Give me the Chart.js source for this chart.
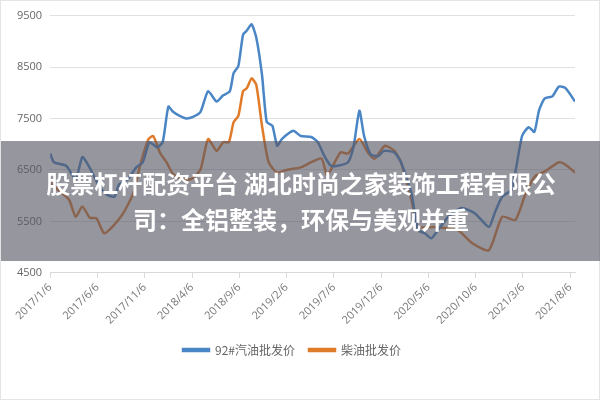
<!DOCTYPE html>
<html>
<head>
<meta charset="utf-8">
<script src="https://cdn.jsdelivr.net/npm/chart.js@4"></script>
<style>
  body { margin: 0; background: #fff; }
  #wrap { position: relative; width: 600px; height: 400px; box-sizing: border-box; border: 1px solid #e4e4e4; }
  #banner {
    position: absolute; left: 0; top: 140px; width: 600px; height: 120px;
    background: rgba(85, 85, 100, 0.62); color: #fff; text-align: center;
    font: bold 24px "Noto Sans CJK SC", sans-serif; line-height: 36px;
    box-sizing: border-box; padding-top: 24px;
  }
</style>
</head>
<body>
<div id="wrap">
  <canvas id="chart" width="598" height="398"></canvas>
  <div id="banner">股票杠杆配资平台 湖北时尚之家装饰工程有限公<br>司：全铝整装，环保与美观并重</div>
</div>
<script>
// months counted from 2017/1/6
const dateLabels = ['2017/1/6', '2017/6/6', '2017/11/6', '2018/4/6', '2018/9/6', '2019/2/6',
  '2019/7/6', '2019/12/6', '2020/5/6', '2020/10/6', '2021/3/6', '2021/8/6'];
const yTicks = [4500, 5500, 6500, 7500, 8500, 9500];

const gasMonths = [0, 0.4, 1.7, 2.7, 3.4, 4.1, 5.2, 6, 6.8, 7.3, 8.2, 9.1, 9.8, 10.5, 11.3, 11.9, 12.5, 13,
  13.7, 14.4, 15.1, 15.9, 16.7, 17.6, 18.3, 19, 19.4, 19.9, 20.4, 20.8, 21.3, 21.8, 22.4, 22.9, 23.5, 24,
  24.5, 25.7, 26.5, 27.6, 28.3, 29, 29.7, 30.4, 31.5, 32.1, 32.7, 33.2, 33.9, 34.7, 35.3, 36.4, 37.1, 38.2,
  38.9, 39.6, 40.3, 41, 42.1, 43.5, 44.9, 46.4, 47, 47.8, 48.8, 49.9, 50.6, 51.2, 51.7, 52.3, 53.1, 53.8,
  54.5, 55.5];
const gasPrices = [6820, 6650, 6580, 6320, 6750, 6570, 6180, 6020, 5980, 6220, 6320, 6550, 6650, 7040, 6940,
  7040, 7730, 7630, 7550, 7500, 7530, 7630, 8030, 7830, 7950, 8030, 8380, 8520, 9130, 9210, 9330, 9070, 8350,
  7430, 7360, 6970, 7100, 7260, 7160, 7140, 7040, 6770, 6580, 6580, 6650, 6970, 7650, 7160, 6800, 6770, 6870,
  6840, 6650, 6050, 5330, 5270, 5170, 5330, 5590, 5760, 5660, 5390, 5660, 5980, 6120, 7160, 7330, 7240, 7660,
  7890, 7930, 8120, 8090, 7830];

const dieselMonths = [0, 0.8, 2, 2.7, 3.4, 4.2, 4.9, 5.7, 6.6, 7.7, 8.8, 9.5, 10.4, 10.9, 11.6, 12.3, 13, 13.9,
  14.9, 15.9, 16.7, 17.6, 18.3, 18.9, 19.4, 19.9, 20.4, 20.8, 21.3, 21.8, 22.4, 23.1, 24, 25, 26.5, 27.6,
  28.7, 29.3, 30.7, 31.5, 32.7, 33.6, 34.3, 35.4, 36.4, 37.1, 38.2, 38.9, 40.7, 43.1, 44.6, 46.4, 47.8, 49.2,
  50.3, 51.3, 52.4, 53.8, 54.5, 55.5];
const dieselPrices = [6250, 6120, 5920, 5590, 5790, 5570, 5560, 5270, 5400, 5650, 6050, 6580, 7100, 7160, 6840,
  6650, 6420, 6320, 6320, 6510, 7100, 6870, 7040, 7040, 7430, 7550, 8030, 8090, 8280, 8150, 7360, 6650, 6450,
  6500, 6550, 6650, 6720, 6400, 6840, 6820, 7100, 6840, 6720, 6970, 6870, 6650, 5920, 5400, 5390, 5330, 5080,
  4940, 5590, 5530, 6050, 6380, 6480, 6650, 6600, 6450];

const toPoints = (xs, ys) => xs.map((x, i) => ({ x: x, y: ys[i] }));

new Chart(document.getElementById('chart'), {
  type: 'line',
  data: {
    datasets: [{
      label: '92#汽油批发价',
      data: toPoints(gasMonths, gasPrices),
      borderColor: '#4a86c5',
      backgroundColor: '#4a86c5',
      borderWidth: 2.5,
      pointRadius: 0,
      tension: 0.2
    }, {
      label: '柴油批发价',
      data: toPoints(dieselMonths, dieselPrices),
      borderColor: '#e07b2a',
      backgroundColor: '#e07b2a',
      borderWidth: 2.5,
      pointRadius: 0,
      tension: 0.2
    }]
  },
  options: {
    responsive: false,
    animation: false,
    layout: { padding: { left: 8, right: 24, top: 14, bottom: 33 } },
    plugins: {
      legend: {
        position: 'bottom',
        labels: {
          boxWidth: 26, boxHeight: 2, padding: 14, color: '#666',
          font: { family: '"Noto Sans CJK SC", sans-serif', size: 12 }
        }
      },
      tooltip: { enabled: false }
    },
    scales: {
      x: {
        type: 'linear', min: 0, max: 55.5,
        afterBuildTicks: axis => { axis.ticks = dateLabels.map((_, i) => ({ value: i * 5 })); },
        ticks: {
          callback: v => dateLabels[Math.round(v / 5)],
          minRotation: 45, maxRotation: 45, color: '#777',
          font: { family: '"Open Sans", sans-serif', size: 11 }
        },
        grid: { display: true, drawOnChartArea: false, tickLength: 5, color: '#d9d9d9' },
        border: { color: '#d9d9d9' }
      },
      y: {
        min: 4500, max: 9500,
        afterBuildTicks: axis => { axis.ticks = yTicks.map(v => ({ value: v })); },
        ticks: { color: '#666', padding: 8, callback: v => String(v),
          font: { family: '"Open Sans", sans-serif', size: 11 } },
        grid: { color: '#e0e0e0', drawTicks: false },
        border: { display: false }
      }
    }
  }
});
</script>
</body>
</html>
